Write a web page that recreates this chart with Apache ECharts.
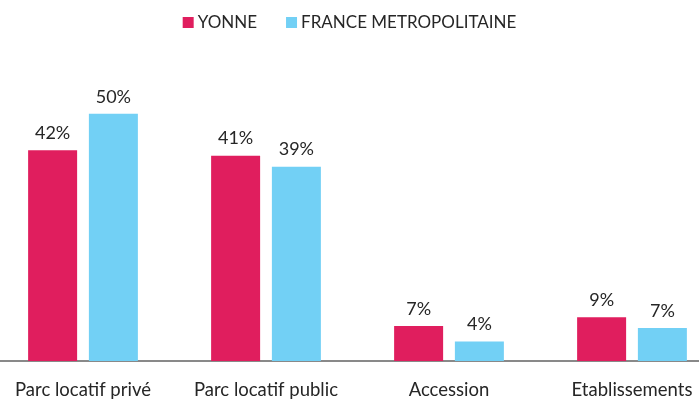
<!DOCTYPE html>
<html>
<head>
<meta charset="utf-8">
<script src="https://cdn.jsdelivr.net/npm/echarts@6/dist/echarts.min.js"></script>
<style>
  html, body { margin: 0; padding: 0; background: #fff; }
  #chart { width: 699px; height: 403px; }
</style>
</head>
<body>
<div id="chart"></div>
<script>
var categories = ['Parc locatif privé', 'Parc locatif public', 'Accession', 'Etablissements'];
var seriesNames = ['YONNE', 'FRANCE METROPOLITAINE'];
var yonne = [42.3, 41.2, 7.0, 8.8];
var france = [49.6, 39.0, 3.9, 6.6];

var fontFamily = 'Lato, "Open Sans", sans-serif';
var textColor = '#262626';

function renderChart(dom) {
    var myChart = echarts.init(dom);
    const labelStyle = {
        show: true,
        position: 'top',
        distance: 8,
        color: textColor,
        fontFamily: fontFamily,
        fontSize: 18,
        formatter: function (p) { return Math.round(p.value) + '%'; }
    };
    var option = {
        animation: false,
        backgroundColor: '#fff',
        legend: {
            top: 9,
            left: 'center',
            itemWidth: 11,
            itemHeight: 11,
            itemGap: 29,
            icon: 'rect',
            data: seriesNames,
            textStyle: { color: textColor, fontFamily: fontFamily, fontSize: 17, padding: [0, 0, 0, -1] }
        },
        // band of 183px per category, wider than the canvas on purpose
        grid: { left: -8.5, right: -24.5, top: 62, bottom: 42, outerBoundsMode: 'none', containLabel: false },
        xAxis: {
            type: 'category',
            data: categories,
            axisTick: { show: false },
            axisLine: { lineStyle: { color: '#898989', width: 2 } },
            axisLabel: {
                interval: 0,
                hideOverlap: false,
                color: textColor,
                fontFamily: fontFamily,
                fontSize: 18.5,
                margin: 20
            }
        },
        yAxis: {
            type: 'value',
            min: 0,
            max: 60,
            show: false,
            splitLine: { show: false }
        },
        series: [
            {
                name: seriesNames[0],
                type: 'bar',
                data: yonne,
                barWidth: 49,
                barGap: '24%',
                itemStyle: { color: '#E01E5E' },
                label: labelStyle
            },
            {
                name: seriesNames[1],
                type: 'bar',
                data: france,
                barWidth: 49,
                barGap: '24%',
                itemStyle: { color: '#72D0F5' },
                label: labelStyle
            }
        ]
    };
    myChart.setOption(option);
}

renderChart(document.getElementById('chart'));
</script>
</body>
</html>
